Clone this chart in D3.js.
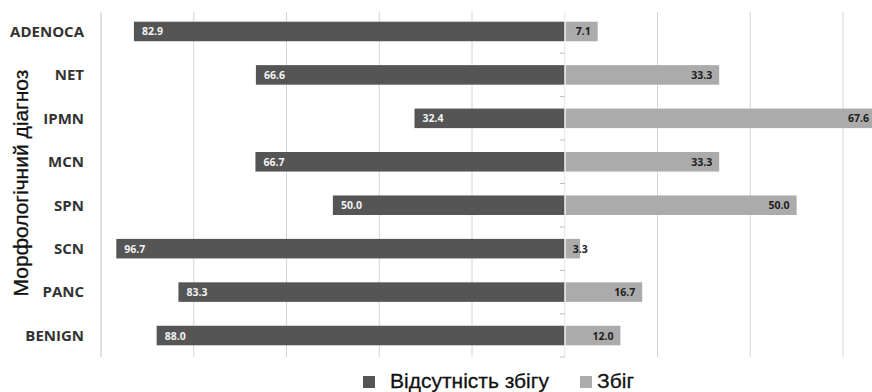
<!DOCTYPE html>
<html>
<head>
<meta charset="utf-8">
<script src="https://cdn.jsdelivr.net/npm/d3@7"></script>
<style>
  html, body { margin: 0; padding: 0; background: #fff; }
  svg { display: block; }
</style>
</head>
<body>
<svg id="chart" width="872" height="392"></svg>
<script>
// ---- data ----
const categories = ["ADENOCA", "NET", "IPMN", "MCN", "SPN", "SCN", "PANC", "BENIGN"];
// bar lengths as drawn in the reference (ADENOCA bar is drawn at ~92.9 while labelled 82.9)
const noMatch = [92.9, 66.6, 32.4, 66.7, 50.0, 96.7, 83.3, 88.0];
const noMatchLabels = ["82.9", "66.6", "32.4", "66.7", "50.0", "96.7", "83.3", "88.0"];
const match = [7.1, 33.3, 67.6, 33.3, 50.0, 3.3, 16.7, 12.0];
const matchLabels = ["7.1", "33.3", "67.6", "33.3", "50.0", "3.3", "16.7", "12.0"];
const gridTicks = [-100, -80, -60, -40, -20, 20, 40, 60];
const seriesNames = ["Відсутність збігу", "Збіг"];
const axisTitle = "Морфологічний діагноз";

// ---- layout ----
const svg = d3.select("#chart");
const colors = ["#555555", "#ababab"];

const x = d3.scaleLinear().domain([-100, 60]).range([101, 843]);
const y = d3.scaleBand().domain(categories).range([9.75, 357.25])
  .paddingInner(0.55).paddingOuter(0.275);

const gridTop = 12, gridBottom = 357;

// grid lines
svg.append("g").selectAll("line").data(gridTicks).join("line")
  .attr("x1", d => x(d)).attr("x2", d => x(d))
  .attr("y1", gridTop).attr("y2", gridBottom)
  .attr("stroke", d => d === -100 ? "#c4c4c4" : "#d4d4d4")
  .attr("stroke-width", 1);

// center axis (faint) with ticks between categories
svg.append("line")
  .attr("x1", x(0)).attr("x2", x(0))
  .attr("y1", gridTop).attr("y2", gridBottom)
  .attr("stroke", "#e6e6e6");
const boundaries = categories.slice(0, -1).map(c => y(c) + y.bandwidth() + (y.step() - y.bandwidth()) / 2);
boundaries.push(gridBottom);
svg.append("g").selectAll("line").data(boundaries).join("line")
  .attr("x1", x(0) - 5).attr("x2", x(0))
  .attr("y1", d => d).attr("y2", d => d)
  .attr("stroke", "#bdbdbd");

// bars
const rows = categories.map((c, i) => ({ c, nm: noMatch[i], nmL: noMatchLabels[i], m: match[i], mL: matchLabels[i] }));

svg.append("g").selectAll("rect").data(rows).join("rect")
  .attr("x", d => x(-d.nm))
  .attr("width", d => x(0) - x(-d.nm) - 0.5)
  .attr("y", d => y(d.c))
  .attr("height", y.bandwidth())
  .attr("fill", colors[0]);

svg.append("g").selectAll("rect").data(rows).join("rect")
  .attr("x", x(0) + 1)
  .attr("width", d => x(d.m) - x(0) - 1)
  .attr("y", d => y(d.c))
  .attr("height", y.bandwidth())
  .attr("fill", colors[1]);

// value labels
const valFont = "'Open Sans', sans-serif";
svg.append("g").selectAll("text").data(rows).join("text")
  .attr("x", d => x(-d.nm) + 8)
  .attr("y", d => y(d.c) + y.bandwidth() / 2 + 4)
  .attr("font-family", valFont).attr("font-weight", 700).attr("font-size", 10.5)
  .attr("fill", "#f2f2f2")
  .text(d => d.nmL);

const rl = svg.append("g").selectAll("text").data(rows).join("text")
  .attr("y", d => y(d.c) + y.bandwidth() / 2 + 4)
  .attr("text-anchor", "end")
  .attr("font-family", valFont).attr("font-weight", 700).attr("font-size", 10.5)
  .attr("fill", "#1e1e1e")
  .text(d => d.mL);
rl.attr("x", function(d) {
  const w = this.getComputedTextLength();
  return Math.min(Math.max(x(d.m) - 7, x(0) + 8 + w), 869);
});

// category labels
svg.append("g").selectAll("text").data(categories).join("text")
  .attr("x", 84)
  .attr("y", d => y(d) + y.bandwidth() / 2 + 5.3)
  .attr("text-anchor", "end")
  .attr("font-family", "'Open Sans', sans-serif").attr("font-weight", 700).attr("font-size", 15)
  .attr("fill", "#333333")
  .text(d => d);

// y axis title
svg.append("text")
  .attr("transform", "translate(28,183) rotate(-90)")
  .attr("text-anchor", "middle")
  .attr("font-family", "'Liberation Sans', Arial, sans-serif")
  .attr("font-size", 21)
  .attr("fill", "#111")
  .attr("stroke", "#111").attr("stroke-width", 0.3)
  .text(axisTitle);

// legend
const legendPos = [{ sx: 363, tx: 390 }, { sx: 580, tx: 597 }];
const lg = svg.append("g").selectAll("g").data(seriesNames).join("g");
lg.append("rect")
  .attr("x", (d, i) => legendPos[i].sx).attr("y", 376)
  .attr("width", 12).attr("height", 12)
  .attr("fill", (d, i) => colors[i]);
lg.append("text")
  .attr("x", (d, i) => legendPos[i].tx).attr("y", 388)
  .attr("font-family", "'Liberation Sans', Arial, sans-serif")
  .attr("font-size", 21)
  .attr("fill", "#111")
  .attr("stroke", "#111").attr("stroke-width", 0.3)
  .text(d => d);
</script>
</body>
</html>
